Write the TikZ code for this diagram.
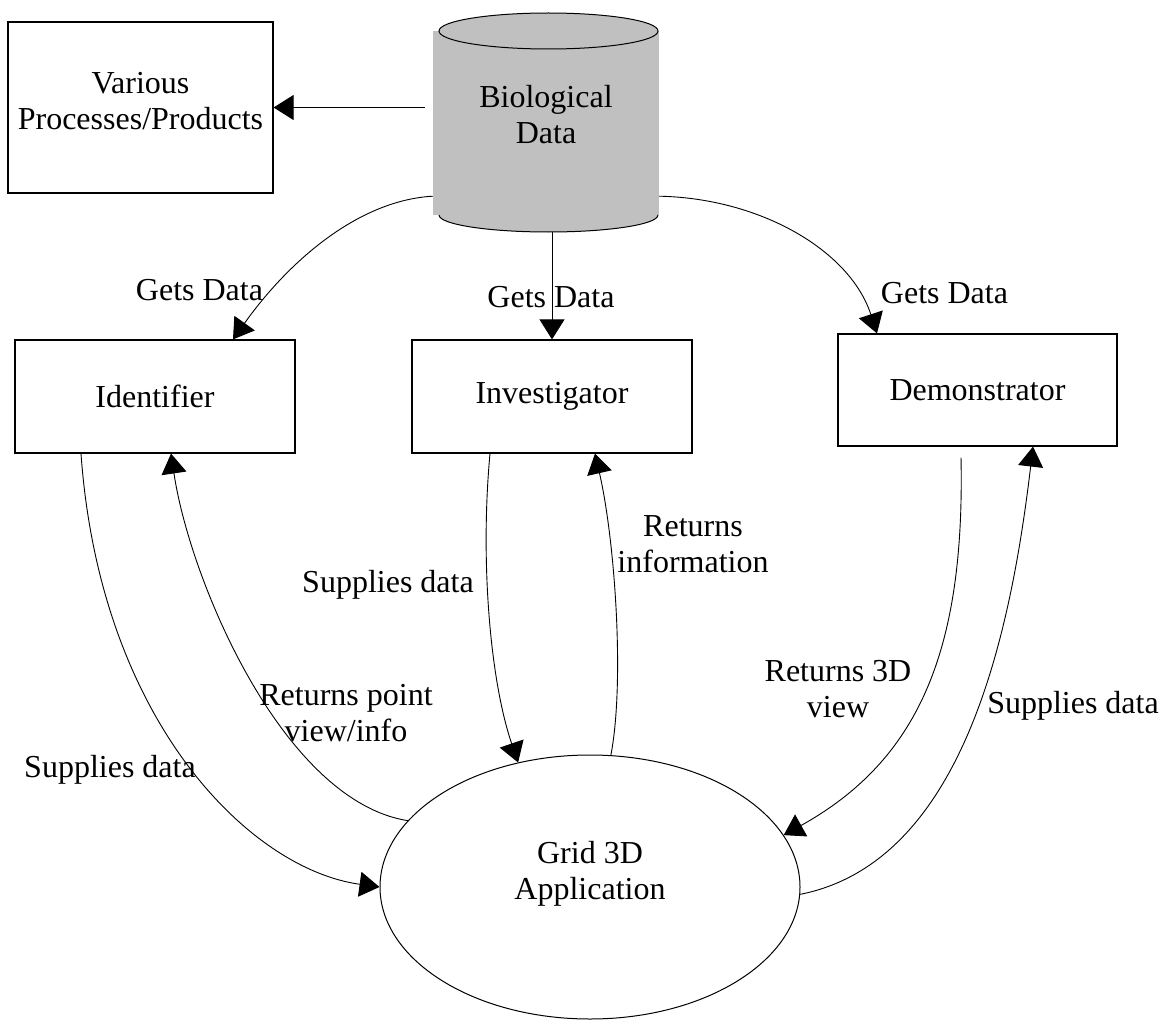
\documentclass[tikz,border=0pt]{standalone}
\usepackage{fontspec}
\setmainfont{Liberation Serif}
\usetikzlibrary{positioning,calc,shapes.geometric,arrows.meta}
\definecolor{DataGray}{RGB}{192,192,192}
\tikzset{
  box/.style={draw=black,line width=1.2pt,align=center,inner sep=0pt},
  flow/.style={draw=black,line width=0.9pt,-{Triangle[length=20pt,width=25pt]}},
  lbl/.style={align=center,inner sep=0pt},
}

\begin{document}
\begin{tikzpicture}[x=1pt,y=-1pt,font=\fontsize{32}{36}\selectfont]
\useasboundingbox (0,0) rectangle (1166,1019);
% data store
\node[fill=DataGray,minimum width=226pt,minimum height=184pt,inner sep=0pt,
  label={[lbl,yshift=8.5pt]center:Biological\\Data}] (bio) at (546,123) {};
\draw[fill=DataGray,line width=1pt] (439,215) arc[start angle=180,end angle=0,x radius=109.5,y radius=17];
\draw[fill=DataGray,line width=1pt] (548.5,31) ellipse[x radius=109.5,y radius=18];
% boxes
\node[box,minimum width=265pt,minimum height=171pt,
  label={[lbl,yshift=6.5pt]center:Various\\Processes/Products}] (var) at (140.5,107.5) {};
\node[box,minimum width=280pt,minimum height=113pt] (ident) at (155,396.5) {Identifier};
\node[box,minimum width=280pt,minimum height=113pt] (inv) at (552,396.5) {Investigator};
\node[box,minimum width=279pt,minimum height=112pt] (dem) at (977.5,390) {Demonstrator};
\node[draw=black,line width=1pt,ellipse,minimum width=420pt,minimum height=264pt,inner sep=0pt,
  label={[lbl,yshift=13pt]center:Grid 3D\\Application}] (grid) at (590,887) {};
% data flows
\coordinate (bioV) at ([xshift=-8pt]bio.west);
\draw[flow] (bioV |- var.east) -- (var.east);
\draw[flow] ([yshift=19pt]bio.south west) .. controls +(-73,4) and +(57,-80) .. ([xshift=78pt]ident.north);
\draw[flow] ([xshift=6pt,yshift=-17pt]bio.south) -- (inv.north);
\draw[flow] ([yshift=19pt]bio.south east) .. controls +(101,2) and +(-27,-83) .. ([xshift=-100.5pt]dem.north);
\draw[flow] ([xshift=-74pt]ident.south) .. controls +(19,267) and +(-130,-18) .. (grid.west);
\draw[flow] (grid.160) .. controls +(-125,-20) and +(19,127) .. ([xshift=16pt]ident.south);
\draw[flow] ([xshift=-62pt]inv.south) .. controls +(-10,107) and +(-28,-82) .. (grid.120);
\draw[flow] (grid.81) .. controls +(14,-73) and +(20,87) .. ([xshift=43pt]inv.south);
\draw[flow] ([xshift=-16.5pt,yshift=-11pt]dem.south) .. controls +(4,193) and +(135,-75) .. (grid.15);
\draw[flow] (grid.358) .. controls +(161,-32) and +(-23,194) .. ([xshift=55.5pt]dem.south);
% labels
\node[lbl,anchor=base] (getsL) at (199.5,300) {Gets Data};
\node[lbl,anchor=base] (getsM) at (551,307) {Gets Data};
\node[lbl,anchor=base] (getsR) at (944.5,303) {Gets Data};
\node[lbl,anchor=base] (supL) at (110,777) {Supplies data};
\node[lbl,anchor=base] (supM) at (388,592) {Supplies data};
\node[lbl,anchor=base] (supR) at (1073,713) {Supplies data};
\node[lbl] (retL) at (346,713) {Returns point\\view/info};
\node[lbl] (retM) at (693,544.5) {Returns\\information};
\node[lbl] (retR) at (838,689.5) {Returns 3D\\view};
\end{tikzpicture}
\end{document}
